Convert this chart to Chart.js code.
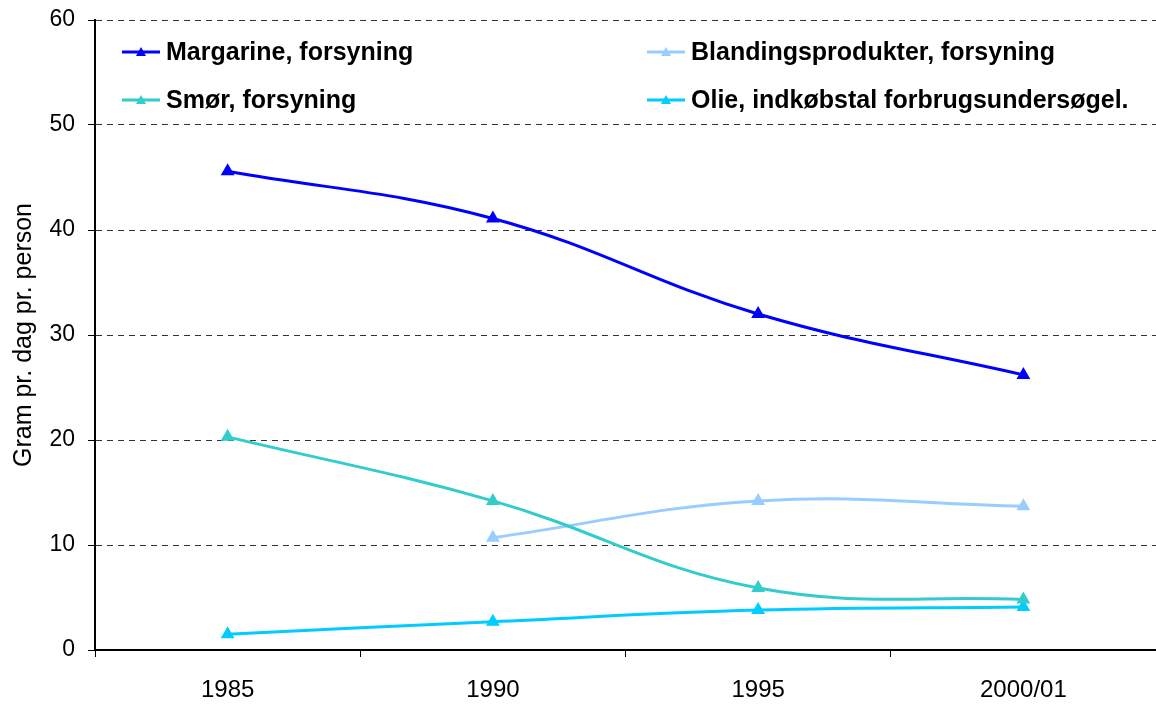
<!DOCTYPE html>
<html>

<head>
    <title>Fedtstoffer</title>
    <script src="https://cdn.jsdelivr.net/npm/chart.js"></script>
    <style>
        body {
            margin: 0;
            background: #fff;
        }

        .chart-container {
            width: 1156px;
            height: 704px;
        }
    </style>
</head>

<body>
    <div class="chart-container">
        <canvas id="fatChart" width="1156" height="704"></canvas>
    </div>

    <script>
        // data
        const years = ["1985", "1990", "1995", "2000/01"];
        const margarine = [45.6, 41.1, 32.0, 26.2];
        const blanding = [null, 10.7, 14.2, 13.7];
        const smoer = [20.3, 14.2, 5.9, 4.8];
        const olie = [1.5, 2.7, 3.8, 4.1];
        const yTicks = [0, 10, 20, 30, 40, 50, 60];

        const FONT = "Arial, 'Liberation Sans', sans-serif";

        function series(label, data, color) {
            return {
                label: label,
                data: data,
                borderColor: color,
                backgroundColor: color,
                borderWidth: 3,
                pointStyle: "triangle",
                pointRadius: 5,
                pointHoverRadius: 5,
                tension: 0.4,
                fill: false
            };
        }

        // legend sits inside the plot, two columns
        const insideLegend = {
            id: "insideLegend",
            afterDraw(chart) {
                const ctx = chart.ctx;
                const spots = [
                    { x: 122, y: 52 },
                    { x: 122, y: 100 },
                    { x: 647, y: 52 },
                    { x: 647, y: 100 }
                ];
                chart.data.datasets.forEach((ds, i) => {
                    const p = spots[i];
                    ctx.save();
                    ctx.strokeStyle = ds.borderColor;
                    ctx.fillStyle = ds.borderColor;
                    ctx.lineWidth = 3;
                    ctx.beginPath();
                    ctx.moveTo(p.x, p.y);
                    ctx.lineTo(p.x + 38, p.y);
                    ctx.stroke();
                    const cx = p.x + 19;
                    ctx.beginPath();
                    ctx.moveTo(cx, p.y - 5);
                    ctx.lineTo(cx + 5, p.y + 4);
                    ctx.lineTo(cx - 5, p.y + 4);
                    ctx.closePath();
                    ctx.fill();
                    ctx.fillStyle = "#000";
                    ctx.font = "bold 25px " + FONT;
                    ctx.textBaseline = "middle";
                    ctx.fillText(ds.label, p.x + 44, p.y + 1);
                    ctx.restore();
                });
            }
        };

        const ctx = document.getElementById("fatChart").getContext("2d");

        new Chart(ctx, {
            type: "line",
            data: {
                labels: years,
                datasets: [
                    series("Margarine, forsyning", margarine, "#0000FF"),
                    series("Smør, forsyning", smoer, "#33CCCC"),
                    series("Blandingsprodukter, forsyning", blanding, "#99CCFF"),
                    series("Olie, indkøbstal forbrugsundersøgel.", olie, "#00CCFF")
                ]
            },
            options: {
                responsive: false,
                animation: false,
                layout: {
                    autoPadding: false,
                    padding: { top: 20, right: 0, bottom: 0, left: 0 }
                },
                plugins: {
                    legend: { display: false },
                    tooltip: { enabled: false }
                },
                scales: {
                    x: {
                        offset: true,
                        grid: {
                            offset: true,
                            drawOnChartArea: false,
                            tickLength: 7,
                            tickColor: "#000",
                            tickWidth: 1
                        },
                        border: { color: "#000", width: 2 },
                        ticks: {
                            color: "#000",
                            font: { family: FONT, size: 24 },
                            padding: 19,
                            maxRotation: 0
                        },
                        afterFit(scale) {
                            scale.height = 54;
                            scale.paddingLeft = 0;
                            scale.paddingRight = 0;
                        }
                    },
                    y: {
                        min: 0,
                        max: 60,
                        afterBuildTicks(scale) {
                            scale.ticks = yTicks.map(v => ({ value: v }));
                        },
                        grid: {
                            color: "#333",
                            lineWidth: 1,
                            tickLength: 7,
                            tickColor: "#000",
                            tickBorderDash: []
                        },
                        border: { color: "#000", width: 2, dash: [6, 5] },
                        ticks: {
                            color: "#000",
                            font: { family: FONT, size: 23 },
                            padding: 13
                        },
                        title: {
                            display: true,
                            text: "Gram pr. dag pr. person",
                            color: "#000",
                            font: { family: FONT, size: 25 },
                            padding: { top: 9, bottom: 0 }
                        },
                        afterFit(scale) {
                            scale.width = 95;
                            scale.paddingTop = 0;
                            scale.paddingBottom = 0;
                        }
                    }
                }
            },
            plugins: [insideLegend]
        });
    </script>
</body>

</html>
